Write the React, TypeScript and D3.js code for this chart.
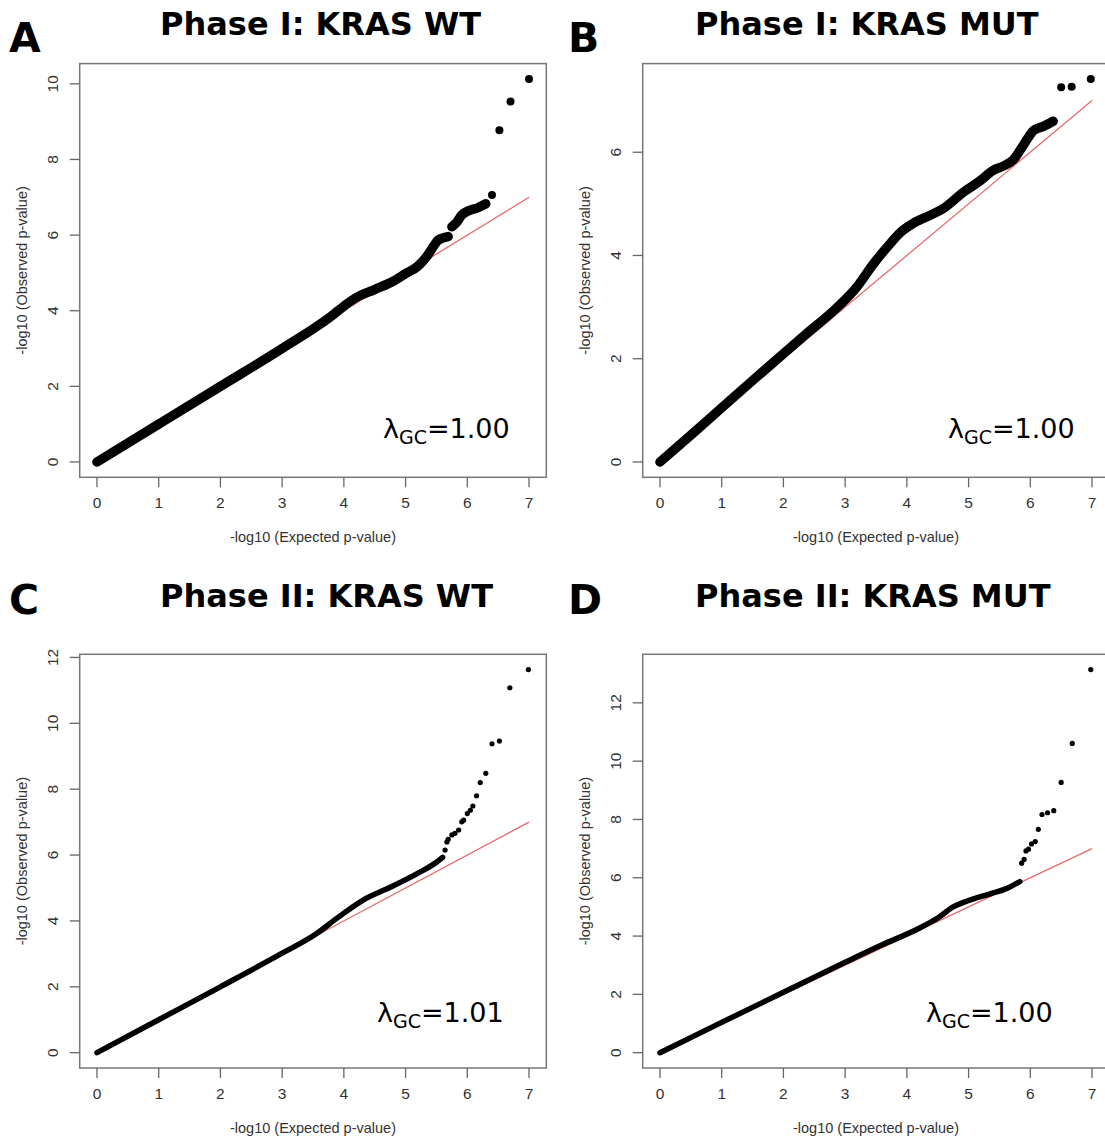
import React from 'react';
import * as d3 from 'd3';

type Pt = [number, number];

const phase1WtBody: Pt[][] = [
  [[0, 0], [1, 1], [2, 2], [3, 3], [3.8, 3.86], [4.0, 4.12], [4.2, 4.35], [4.5, 4.56], [4.8, 4.78], [5.0, 4.98], [5.2, 5.18], [5.35, 5.45], [5.45, 5.7], [5.53, 5.87], [5.69, 5.96]],
  [[5.75, 6.22], [5.83, 6.34], [5.91, 6.53], [5.99, 6.62], [6.18, 6.73], [6.3, 6.83]],
];
const phase1WtTail: Pt[] = [[6.4, 7.06], [6.52, 8.77], [6.7, 9.53], [7.0, 10.13]];

const phase1MutBody: Pt[][] = [
  [[0, 0], [0.5, 0.52], [1, 1.05], [1.57, 1.65], [2.38, 2.49], [2.85, 2.97], [3.19, 3.39], [3.46, 3.84], [3.73, 4.23], [3.9, 4.45], [4.1, 4.62], [4.38, 4.78], [4.59, 4.91], [4.92, 5.23], [5.19, 5.45], [5.4, 5.65], [5.56, 5.73], [5.73, 5.86], [5.83, 6.03], [5.97, 6.29], [6.05, 6.42], [6.21, 6.5], [6.37, 6.6]],
];
const phase1MutTail: Pt[] = [[6.5, 7.26], [6.67, 7.27], [6.98, 7.42]];

const phase2WtBody: Pt[][] = [
  [[0, 0], [1, 1], [2, 2], [3, 3.02], [3.56, 3.62], [3.9, 4.1], [4.3, 4.62], [4.75, 5.02], [5.18, 5.43], [5.5, 5.78], [5.6, 5.93]],
];
const phase2WtTail: Pt[] = [
  [5.64, 6.15], [5.67, 6.4], [5.69, 6.48], [5.75, 6.61], [5.8, 6.66], [5.86, 6.76], [5.91, 7.01], [5.94, 7.06], [6.0, 7.26], [6.05, 7.36],
  [6.09, 7.49], [6.15, 7.8], [6.21, 8.2], [6.3, 8.48], [6.4, 9.38], [6.52, 9.46], [6.69, 11.08], [6.99, 11.63],
];

const phase2MutBody: Pt[][] = [
  [[0, 0], [1, 1.04], [2, 2.07], [3, 3.1], [3.6, 3.7], [4.2, 4.27], [4.5, 4.62], [4.75, 5.0], [5.0, 5.22], [5.35, 5.45], [5.6, 5.62], [5.83, 5.87]],
];
const phase2MutTail: Pt[] = [
  [5.86, 6.5], [5.9, 6.63], [5.93, 6.92], [5.97, 6.98], [6.02, 7.16], [6.08, 7.24], [6.13, 7.66], [6.19, 8.17], [6.28, 8.23],
  [6.38, 8.3], [6.5, 9.27], [6.68, 10.61], [6.98, 13.14],
];

const xTicks = [0, 1, 2, 3, 4, 5, 6, 7];
const yTicksA = [0, 2, 4, 6, 8, 10];
const yTicksB = [0, 2, 4, 6];
const yTicksC = [0, 2, 4, 6, 8, 10, 12];
const yTicksD = [0, 2, 4, 6, 8, 10, 12];

const titles = ['Phase I: KRAS WT', 'Phase I: KRAS MUT', 'Phase II: KRAS WT', 'Phase II: KRAS MUT'];
const letters = ['A', 'B', 'C', 'D'];
const lambdas = ['1.00', '1.00', '1.01', '1.00'];

const BOX_W = 466.6;
const BOX_H = 413.7;
const axisFont = '"Liberation Sans", Arial, sans-serif';
const boldFont = '"DejaVu Sans", Verdana, sans-serif';

interface PanelProps {
  idx: number;
  left: number;
  top: number;
  body: Pt[][];
  tail: Pt[];
  yTicks: number[];
  big: boolean;
  lambdaX: number;
  lambdaY: number;
}

const Panel: React.FC<PanelProps> = ({ idx, left, top, body, tail, yTicks, big, lambdaX, lambdaY }) => {
  const allY = [...body.flat(), ...tail].map((d) => d[1]);
  const yMax = d3.max(allY) as number;
  const xMax = 7;
  // R style 4% padding
  const x = d3.scaleLinear().domain([-0.04 * xMax, xMax * 1.04]).range([left, left + BOX_W]);
  const y = d3.scaleLinear().domain([-0.04 * yMax, yMax * 1.04]).range([top + BOX_H, top]);
  const line = d3
    .line<Pt>()
    .x((d) => x(d[0]))
    .y((d) => y(d[1]))
    .curve(d3.curveMonotoneX);

  const bottom = top + BOX_H;
  const strokeW = big ? 9.5 : 5.5;
  const r = big ? 4 : 2.6;

  return (
    <g>
      <rect x={left} y={top} width={BOX_W} height={BOX_H} fill="none" stroke="#777" strokeWidth={1.5} />
      {/* x axis */}
      {xTicks.map((t) => (
        <g key={`x${t}`}>
          <line x1={x(t)} x2={x(t)} y1={bottom} y2={bottom + 10} stroke="#666" strokeWidth={1.3} />
          <text x={x(t)} y={bottom + 31} textAnchor="middle" fontSize={15.5} fill="#333" fontFamily={axisFont}>
            {t}
          </text>
        </g>
      ))}
      <text x={left + BOX_W / 2} y={bottom + 65} textAnchor="middle" fontSize={14.5} fill="#333" fontFamily={axisFont}>
        -log10 (Expected p-value)
      </text>
      {/* y axis */}
      {yTicks.map((t) => (
        <g key={`y${t}`}>
          <line x1={left - 10} x2={left} y1={y(t)} y2={y(t)} stroke="#666" strokeWidth={1.3} />
          <text
            transform={`translate(${left - 22},${y(t)}) rotate(-90)`}
            textAnchor="middle"
            fontSize={15.5}
            fill="#333"
            fontFamily={axisFont}
          >
            {t}
          </text>
        </g>
      ))}
      <text
        transform={`translate(${left - 53},${top + BOX_H / 2}) rotate(-90)`}
        textAnchor="middle"
        fontSize={14.5}
        fill="#333"
        fontFamily={axisFont}
      >
        -log10 (Observed p-value)
      </text>
      {/* expected line */}
      <line x1={x(0)} y1={y(0)} x2={x(7)} y2={y(7)} stroke="#e8696b" strokeWidth={1.3} />
      {body.map((seg, i) => (
        <path
          key={i}
          d={line(seg) as string}
          fill="none"
          stroke="#000"
          strokeWidth={strokeW}
          strokeLinecap="round"
          strokeLinejoin="round"
        />
      ))}
      {tail.map((d, i) => (
        <circle key={i} cx={x(d[0])} cy={y(d[1])} r={r} fill="#000" />
      ))}
      <text x={lambdaX} y={lambdaY} fontSize={27} fill="#000" fontFamily={boldFont}>
        λ
        <tspan fontSize={19} dy={6}>GC</tspan>
        <tspan dy={-6}>={lambdas[idx]}</tspan>
      </text>
    </g>
  );
};

export default function App() {
  const lefts = [79.7, 642.7, 79.7, 642.7];
  const tops = [63.6, 63.6, 654.3, 654.3];
  const bodies = [phase1WtBody, phase1MutBody, phase2WtBody, phase2MutBody];
  const tails = [phase1WtTail, phase1MutTail, phase2WtTail, phase2MutTail];
  const yTicks = [yTicksA, yTicksB, yTicksC, yTicksD];
  const titlePos = [[160, 35], [695, 35], [160, 607], [695, 607]];
  const letterPos = [[9, 52], [568, 52], [9, 614], [568, 614]];
  const lambdaPos = [[383, 438], [948, 438], [377, 1022], [926, 1022]];

  return (
    <svg
      width={1105}
      height={1140}
      style={{ position: 'absolute', left: 0, top: 0, background: '#fff' }}
    >
      <rect width={1105} height={1140} fill="#fff" />
      {titles.map((t, i) => (
        <g key={t}>
          <text x={titlePos[i][0]} y={titlePos[i][1]} fontSize={32} fontWeight="bold" fontFamily={boldFont} fill="#000">
            {t}
          </text>
          <text x={letterPos[i][0]} y={letterPos[i][1]} fontSize={41} fontWeight="bold" fontFamily={boldFont} fill="#000">
            {letters[i]}
          </text>
          <Panel
            idx={i}
            left={lefts[i]}
            top={tops[i]}
            body={bodies[i]}
            tail={tails[i]}
            yTicks={yTicks[i]}
            big={i < 2}
            lambdaX={lambdaPos[i][0]}
            lambdaY={lambdaPos[i][1]}
          />
        </g>
      ))}
    </svg>
  );
}
